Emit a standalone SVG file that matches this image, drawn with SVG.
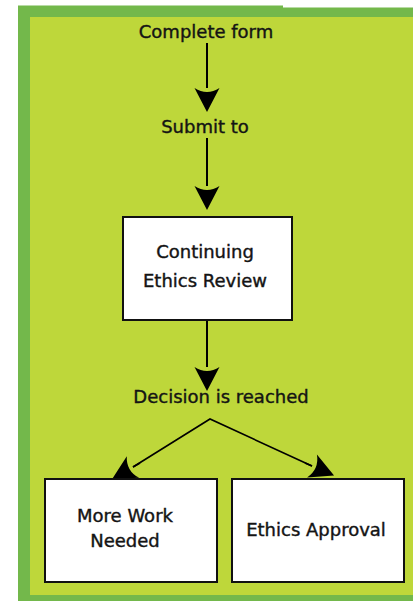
<svg xmlns="http://www.w3.org/2000/svg" width="413" height="603" viewBox="0 0 413 603">
<style>
.lbl{font-family:"DejaVu Sans","Liberation Sans",sans-serif;font-size:18px;fill:#141414;stroke:#141414;stroke-width:0.4;text-anchor:middle}
.box{fill:#ffffff;stroke:#111;stroke-width:2}
.con{stroke:#000;stroke-width:2;fill:none}
.dia{stroke:#000;stroke-width:1.6;fill:none}
</style>
<defs>
<marker id="ah" markerUnits="userSpaceOnUse" markerWidth="24" markerHeight="25" viewBox="0 0 24 25" refX="0" refY="12.5" orient="auto" overflow="visible">
<path d="M0,0 Q8,12.5 0,25 L24,12.5 Z" fill="#000"/>
</marker>
</defs>
<rect width="413" height="603" fill="#ffffff"/>
<polygon points="18,5.5 283,5.5 283,7.5 413,7.5 413,601 18,601" fill="#73b84b"/>
<rect x="30" y="17" width="383" height="578" fill="#bed73a"/>

<g id="connectors">
<line class="con" x1="207" y1="43" x2="207" y2="88" marker-end="url(#ah)"/>
<line class="con" x1="207" y1="138" x2="207" y2="186" marker-end="url(#ah)"/>
<line class="con" x1="207" y1="320" x2="207" y2="367" marker-end="url(#ah)"/>
<polyline class="dia" points="133,467 210,419 312,466"/>
<line class="dia" x1="140" y1="463" x2="133" y2="467" marker-end="url(#ah)"/>
<line class="dia" x1="305" y1="463" x2="312" y2="466" marker-end="url(#ah)"/>
</g>

<g id="complete-form"><text class="lbl" x="206" y="38">Complete form</text></g>
<g id="submit-to"><text class="lbl" x="205" y="133">Submit to</text></g>
<g id="continuing-review">
<rect class="box" x="123" y="217" width="169" height="103"/>
<text class="lbl" x="205" y="258">Continuing</text>
<text class="lbl" x="205" y="287">Ethics Review</text>
</g>
<g id="decision"><text class="lbl" x="221" y="403">Decision is reached</text></g>
<g id="more-work">
<rect class="box" x="45" y="479" width="172" height="103"/>
<text class="lbl" x="125" y="522">More Work</text>
<text class="lbl" x="125" y="547">Needed</text>
</g>
<g id="ethics-approval">
<rect class="box" x="232" y="479" width="172" height="103"/>
<text class="lbl" x="316" y="536">Ethics Approval</text>
</g>
</svg>
